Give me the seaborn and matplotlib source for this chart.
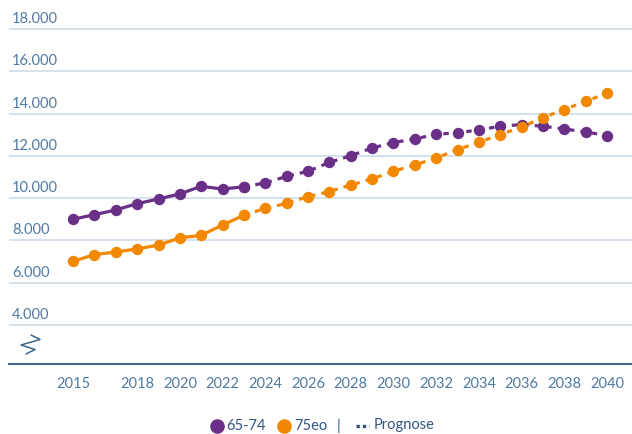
import matplotlib
matplotlib.use("Agg")
import matplotlib.pyplot as plt
from matplotlib.lines import Line2D
import matplotlib.transforms as mtransforms
import seaborn as sns
import pandas as pd
import numpy as np

# ---- data ----
years = list(range(2015, 2041))
s_6574 = [9000, 9220, 9440, 9740, 9960, 10200, 10560, 10430, 10540,
          10720, 11030, 11270, 11690, 12010, 12370, 12630, 12800, 13020,
          13090, 13230, 13400, 13480, 13400, 13270, 13130, 12960]
s_75eo = [7010, 7330, 7450, 7600, 7780, 8120, 8240, 8730, 9190,
          9520, 9750, 10070, 10310, 10620, 10910, 11270, 11570, 11900,
          12300, 12640, 13010, 13360, 13810, 14190, 14580, 14960]
last_actual_year = 2023
series_names = ["65-74", "75eo"]
x_ticks = [2015, 2018, 2020, 2022, 2024, 2026, 2028, 2030, 2032, 2034, 2036, 2038, 2040]
y_ticks = [4000, 6000, 8000, 10000, 12000, 14000, 16000, 18000]
y_tick_labels = ["4.000", "6.000", "8.000", "10.000", "12.000", "14.000", "16.000", "18.000"]
legend_forecast = "Prognose"

# ---- styles ----
PURPLE = "#6a2f86"
ORANGE = "#f28700"
TXT = "#4f7aa3"
LEG_TXT = "#2f5581"
GRID = "#d3dee9"
AXIS = "#3d6790"

sns.set_theme(style="white")
plt.rcParams["font.family"] = ["Lato", "DejaVu Sans"]

df = pd.DataFrame({
    "year": years * 2,
    "value": s_6574 + s_75eo,
    "series": [series_names[0]] * len(years) + [series_names[1]] * len(years),
})
hist = df[df["year"] <= last_actual_year]
fc = df[df["year"] >= last_actual_year]
palette = {series_names[0]: PURPLE, series_names[1]: ORANGE}

W, H = 632, 434
fig = plt.figure(figsize=(W / 100, H / 100), dpi=100)
ax = fig.add_axes([9 / W, (H - 364) / H, 623 / W, 364 / H])

ms = 8.2
lw = 2.3
sns.lineplot(data=fc, x="year", y="value", hue="series", palette=palette, ax=ax,
             linewidth=lw, marker="o", markersize=ms, markeredgewidth=0,
             legend=False, zorder=3)
for ln in ax.get_lines():
    ln.set_dashes((1.7, 1.9))
sns.lineplot(data=hist, x="year", y="value", hue="series", palette=palette, ax=ax,
             linewidth=lw, marker="o", markersize=ms, markeredgewidth=0,
             legend=False, zorder=4)

ax.set_xlim(2012.0, 2041.17)
ax.set_ylim(2154, 19373)

# grid lines
for v in y_ticks:
    ax.axhline(v, color=GRID, lw=1.3, zorder=1)

for s in ["top", "right", "left"]:
    ax.spines[s].set_visible(False)
ax.spines["bottom"].set_color(AXIS)
ax.spines["bottom"].set_linewidth(1.5)

ax.set_yticks([])
ax.set_xticks(x_ticks)
ax.set_xticklabels([str(t) for t in x_ticks], color=TXT, fontsize=10.5)
ax.tick_params(axis="x", length=0, pad=9)
ax.set_xlabel("")
ax.set_ylabel("")

# y labels above grid lines
trans = mtransforms.blended_transform_factory(ax.transAxes, ax.transData)
offs = mtransforms.offset_copy(trans, fig=fig, x=3, y=3, units="dots")
for v, lab in zip(y_ticks, y_tick_labels):
    ax.text(0, v, lab, transform=offs, color=TXT, fontsize=10.5,
            ha="left", va="bottom")

# axis break zigzag
zx = np.array([31, 40, 21, 35, 26]) / W
zy = 1 - np.array([335, 339.5, 345, 349.5, 354]) / H
fig.add_artist(Line2D(zx, zy, color=AXIS, lw=1.1, transform=fig.transFigure))

# legend
ly = 1 - 425.5 / H
fig.add_artist(Line2D([216.5 / W], [ly], marker="o", markersize=10.5, color=PURPLE,
                      markeredgewidth=0, transform=fig.transFigure))
fig.text(226 / W, ly, series_names[0], color=LEG_TXT, fontsize=10.5, va="center", ha="left")
fig.add_artist(Line2D([284 / W], [ly], marker="o", markersize=10.5, color=ORANGE,
                      markeredgewidth=0, transform=fig.transFigure))
fig.text(294 / W, ly, series_names[1], color=LEG_TXT, fontsize=10.5, va="center", ha="left")
fig.text(339 / W, ly, "|", color=LEG_TXT, fontsize=10.5, va="center", ha="center")
dl = Line2D([356 / W, 369 / W], [ly, ly], color=LEG_TXT, lw=2.4, solid_capstyle="butt",
            dashes=(1.0, 0.9), transform=fig.transFigure)
fig.add_artist(dl)
fig.text(374 / W, ly, legend_forecast, color=LEG_TXT, fontsize=10.5, va="center", ha="left")

fig.savefig("out.png", dpi=100)
